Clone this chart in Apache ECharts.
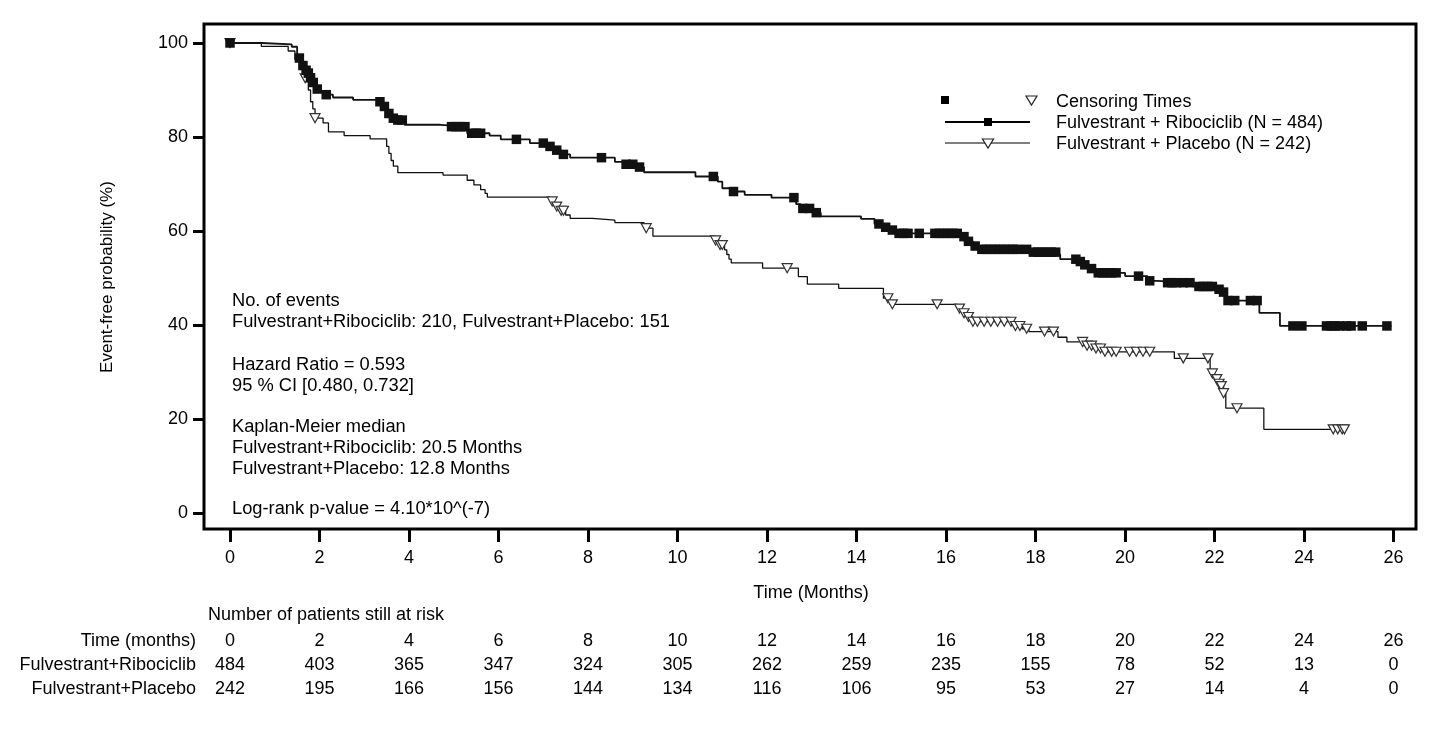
<!DOCTYPE html>
<html>
<head>
<meta charset="utf-8">
<script src="https://cdn.jsdelivr.net/npm/echarts@6/dist/echarts.min.js"></script>
<style>
html,body{margin:0;padding:0;background:#fff;}
#chart{width:1433px;height:743px;}
</style>
</head>
<body>
<div id="chart"></div>
<script>
// ---------- DATA ----------
const timeTicks = [0,2,4,6,8,10,12,14,16,18,20,22,24,26];
const yTicks = [0,20,40,60,80,100];
const riboAtRisk = [484,403,365,347,324,305,262,259,235,155,78,52,13,0];
const placeboAtRisk = [242,195,166,156,144,134,116,106,95,53,27,14,4,0];

// Kaplan-Meier steps [time (months), event-free %] for Fulvestrant + Ribociclib
const riboCurve = [
[0,100],[0.7,99.7],[1.38,99.2],[1.5,96.8],[1.6,95.2],[1.68,94.2],[1.73,93.6],[1.78,92.6],[1.83,91.6],[1.9,90.2],[2.0,89.6],[2.1,89.0],[2.3,88.4],[2.75,87.9],[3.3,87.5],[3.4,86.5],[3.5,85.0],[3.6,84.0],[3.7,83.6],[3.9,82.6],[4.7,82.2],[5.3,80.8],[5.8,80.3],[6.05,79.5],[6.7,78.7],[7.05,78.0],[7.2,77.2],[7.4,76.3],[7.6,75.6],[8.6,74.7],[8.8,74.2],[9.05,73.6],[9.25,72.5],[10.4,71.6],[10.9,70.5],[11.0,69.1],[11.2,68.4],[11.5,67.7],[12.1,67.1],[12.65,65.7],[12.75,64.8],[13.05,63.9],[13.2,63.1],[14.1,62.6],[14.4,61.5],[14.55,60.8],[14.7,60.2],[14.85,59.5],[16.3,58.8],[16.45,57.8],[16.6,56.8],[16.75,56.1],[17.9,55.5],[18.45,55.0],[18.55,54.0],[18.95,53.5],[19.05,52.8],[19.2,52.0],[19.35,51.1],[20.0,50.4],[20.5,49.4],[20.7,49.0],[21.5,48.2],[21.95,47.6],[22.15,47.0],[22.25,45.2],[23.0,42.6],[23.46,39.8],[25.95,39.8]
];
// Censoring times, Fulvestrant + Ribociclib
const riboCensor = [
[0,100],[1.55,96.8],[1.63,95.2],[1.7,94.2],[1.75,93.6],[1.8,92.6],[1.86,91.6],[1.95,90.2],[2.15,89.0],[3.35,87.5],[3.45,86.5],[3.55,85.0],[3.65,84.0],[3.75,83.6],[3.85,83.6],[4.95,82.2],[5.05,82.2],[5.15,82.2],[5.25,82.2],[5.4,80.8],[5.5,80.8],[5.6,80.8],[6.4,79.5],[7.0,78.7],[7.15,78.0],[7.3,77.2],[7.45,76.3],[8.3,75.6],[8.85,74.2],[9.0,74.2],[9.15,73.6],[10.8,71.6],[11.25,68.4],[12.6,67.1],[12.8,64.8],[12.95,64.8],[13.1,63.9],[14.5,61.5],[14.65,60.8],[14.8,60.2],[14.95,59.5],[15.05,59.5],[15.15,59.5],[15.4,59.5],[15.75,59.5],[15.85,59.5],[15.95,59.5],[16.05,59.5],[16.15,59.5],[16.25,59.5],[16.4,58.8],[16.5,57.8],[16.65,56.8],[16.8,56.1],[16.9,56.1],[17.0,56.1],[17.1,56.1],[17.2,56.1],[17.3,56.1],[17.4,56.1],[17.5,56.1],[17.6,56.1],[17.8,56.1],[17.95,55.5],[18.05,55.5],[18.15,55.5],[18.25,55.5],[18.35,55.5],[18.45,55.5],[18.9,54.0],[19.0,53.5],[19.1,52.8],[19.25,52.0],[19.4,51.1],[19.5,51.1],[19.6,51.1],[19.7,51.1],[19.8,51.1],[20.3,50.4],[20.55,49.4],[20.95,49.0],[21.05,49.0],[21.15,49.0],[21.3,49.0],[21.45,49.0],[21.65,48.2],[21.75,48.2],[21.85,48.2],[21.95,48.2],[22.1,47.6],[22.2,47.0],[22.3,45.2],[22.45,45.2],[22.8,45.2],[22.95,45.2],[23.75,39.8],[23.95,39.8],[24.5,39.8],[24.6,39.8],[24.7,39.8],[24.8,39.8],[24.95,39.8],[25.05,39.8],[25.3,39.8],[25.85,39.8]
];

// Kaplan-Meier steps, Fulvestrant + Placebo
const placeboCurve = [
[0,100],[0.7,99.3],[1.3,98.3],[1.45,96.5],[1.55,94.5],[1.65,92.5],[1.75,90.0],[1.8,87.5],[1.85,86.0],[1.9,84.0],[2.08,83.0],[2.2,81.1],[2.55,80.3],[3.13,79.6],[3.5,78.0],[3.55,76.5],[3.6,75.0],[3.65,73.8],[3.75,72.4],[4.76,71.9],[5.3,70.8],[5.45,69.8],[5.6,68.8],[5.7,68.0],[5.75,67.2],[7.15,66.3],[7.25,65.2],[7.35,64.3],[7.5,63.4],[7.6,62.7],[8.1,62.3],[8.6,61.8],[9.25,60.6],[9.45,58.9],[10.85,58.0],[10.95,57.0],[11.05,56.0],[11.1,55.0],[11.15,54.0],[11.2,53.2],[11.9,52.1],[12.7,50.3],[12.9,48.7],[13.6,47.8],[14.6,45.7],[14.75,44.4],[16.25,43.5],[16.35,42.5],[16.45,41.7],[16.6,40.7],[17.5,39.8],[17.7,39.2],[17.85,38.6],[18.5,37.4],[18.7,36.4],[19.05,35.6],[19.3,35.0],[19.5,34.3],[21.1,32.9],[21.9,29.7],[22.0,28.5],[22.1,27.0],[22.2,25.5],[22.25,22.3],[23.1,17.8],[24.95,17.8]
];
// Censoring times, Fulvestrant + Placebo
const placeboCensor = [
[0,100],[1.68,92.5],[1.9,84.0],[7.2,66.3],[7.3,65.2],[7.4,64.3],[7.45,64.3],[9.3,60.6],[10.85,58.0],[10.95,57.0],[11.0,57.0],[12.45,52.1],[14.7,45.7],[14.8,44.4],[15.8,44.4],[16.3,43.5],[16.4,42.5],[16.5,41.7],[16.6,40.7],[16.7,40.7],[16.85,40.7],[17.0,40.7],[17.15,40.7],[17.3,40.7],[17.45,40.7],[17.55,39.8],[17.65,39.8],[17.8,39.2],[18.2,38.6],[18.4,38.6],[19.05,36.4],[19.15,35.6],[19.25,35.6],[19.35,35.0],[19.45,35.0],[19.55,34.3],[19.7,34.3],[19.8,34.3],[20.1,34.3],[20.25,34.3],[20.4,34.3],[20.55,34.3],[21.3,32.9],[21.85,32.9],[21.95,29.7],[22.05,28.5],[22.1,27.5],[22.15,27.0],[22.2,25.5],[22.5,22.3],[24.65,17.8],[24.75,17.8],[24.85,17.8],[24.9,17.8]
];

const annotationLines = [
  ['No. of events', 301],
  ['Fulvestrant+Ribociclib: 210, Fulvestrant+Placebo: 151', 322],
  ['Hazard Ratio = 0.593', 365],
  ['95 % CI [0.480, 0.732]', 386],
  ['Kaplan-Meier median', 427],
  ['Fulvestrant+Ribociclib: 20.5 Months', 448],
  ['Fulvestrant+Placebo: 12.8 Months', 469],
  ['Log-rank p-value = 4.10*10^(-7)', 509]
];

// ---------- CHART ----------
const FONT = '"Liberation Sans", Arial, Helvetica, sans-serif';
const chart = echarts.init(document.getElementById('chart'), null, {renderer: 'canvas'});

const baseOption = {
  animation: false,
  backgroundColor: '#fff',
  textStyle: {fontFamily: FONT, color: '#000'},
  grid: {left: 204, right: 17, top: 24, bottom: 214, show: true, borderColor: '#000', borderWidth: 3, backgroundColor: 'transparent'},
  xAxis: {
    type: 'value', min: -0.581, max: 26.5,
    axisLine: {show: false, onZero: false},
    splitLine: {show: false},
    axisTick: {show: true, inside: false, length: 13, lineStyle: {color: '#000', width: 3}, customValues: timeTicks},
    axisLabel: {show: true, fontSize: 18, color: '#000', fontFamily: FONT, margin: 20, customValues: timeTicks, formatter: v => String(v)}
  },
  yAxis: {
    type: 'value', min: -3.4, max: 104.04,
    axisLine: {show: false, onZero: false},
    splitLine: {show: false},
    axisTick: {show: true, inside: false, length: 11, lineStyle: {color: '#000', width: 3}, customValues: yTicks},
    axisLabel: {show: true, fontSize: 18, color: '#000', fontFamily: FONT, margin: 16, customValues: yTicks, formatter: v => String(v)}
  },
  series: [
    {
      name: 'Fulvestrant + Placebo', type: 'line', step: 'end', data: placeboCurve,
      symbol: 'none', lineStyle: {color: '#111', width: 1.3}, z: 2
    },
    {
      name: 'Fulvestrant + Ribociclib', type: 'line', step: 'end', data: riboCurve,
      symbol: 'none', lineStyle: {color: '#111', width: 1.8}, z: 3
    },
    {
      name: 'Placebo censor', type: 'scatter', data: placeboCensor,
      symbol: 'triangle', symbolRotate: 180, symbolSize: [10, 9],
      itemStyle: {color: '#fff', borderColor: '#333', borderWidth: 1.2, opacity: 1}, z: 4
    },
    {
      name: 'Ribociclib censor', type: 'scatter', data: riboCensor,
      symbol: 'rect', symbolSize: 9.5,
      itemStyle: {color: '#111', opacity: 1}, z: 5
    }
  ]
};
chart.setOption(baseOption);

// ---------- TEXT / LEGEND / RISK TABLE ----------
const g = [];
const txt = (x, y, s, opts) => Object.assign({
  type: 'text', x: x, y: y,
  style: Object.assign({text: s, fill: '#000', font: '18px ' + FONT, textAlign: 'left', textVerticalAlign: 'middle'}, (opts || {}))
});

// axis names
g.push({type: 'text', x: 107, y: 277, rotation: Math.PI / 2,
  style: {text: 'Event-free probability (%)', fill: '#000', font: '17px ' + FONT, textAlign: 'center', textVerticalAlign: 'middle'}});
g.push(txt(811, 593, 'Time (Months)', {textAlign: 'center'}));

// annotations inside plot
annotationLines.forEach(([s, y]) => g.push(txt(232, y, s, {font: '18.3px ' + FONT})));

// legend
g.push({type: 'rect', shape: {x: 941, y: 96, width: 8, height: 8}, style: {fill: '#000'}});
g.push({type: 'polygon', shape: {points: [[1026, 96], [1037, 96], [1031.5, 105]]}, style: {fill: '#fff', stroke: '#222', lineWidth: 1.2}});
g.push(txt(1056, 102, 'Censoring Times'));
g.push({type: 'line', shape: {x1: 945, y1: 122, x2: 1030, y2: 122}, style: {stroke: '#000', lineWidth: 2}});
g.push({type: 'rect', shape: {x: 984, y: 118, width: 8, height: 8}, style: {fill: '#000'}});
g.push(txt(1056, 123, 'Fulvestrant + Ribociclib (N = 484)'));
g.push({type: 'line', shape: {x1: 945, y1: 143, x2: 1030, y2: 143}, style: {stroke: '#000', lineWidth: 1.2}});
g.push({type: 'polygon', shape: {points: [[982.5, 139], [993.5, 139], [988, 148]]}, style: {fill: '#fff', stroke: '#222', lineWidth: 1.2}});
g.push(txt(1056, 144, 'Fulvestrant + Placebo (N = 242)'));

// number at risk table
g.push(txt(208, 615, 'Number of patients still at risk'));
g.push(txt(196, 641, 'Time (months)', {textAlign: 'right'}));
g.push(txt(196, 665, 'Fulvestrant+Ribociclib', {textAlign: 'right'}));
g.push(txt(196, 689, 'Fulvestrant+Placebo', {textAlign: 'right'}));
timeTicks.forEach((t, i) => {
  const px = chart.convertToPixel({xAxisIndex: 0}, t);
  g.push(txt(px, 641, String(t), {textAlign: 'center'}));
  g.push(txt(px, 665, String(riboAtRisk[i]), {textAlign: 'center'}));
  g.push(txt(px, 689, String(placeboAtRisk[i]), {textAlign: 'center'}));
});

chart.setOption({graphic: {elements: g}});
</script>
</body>
</html>
